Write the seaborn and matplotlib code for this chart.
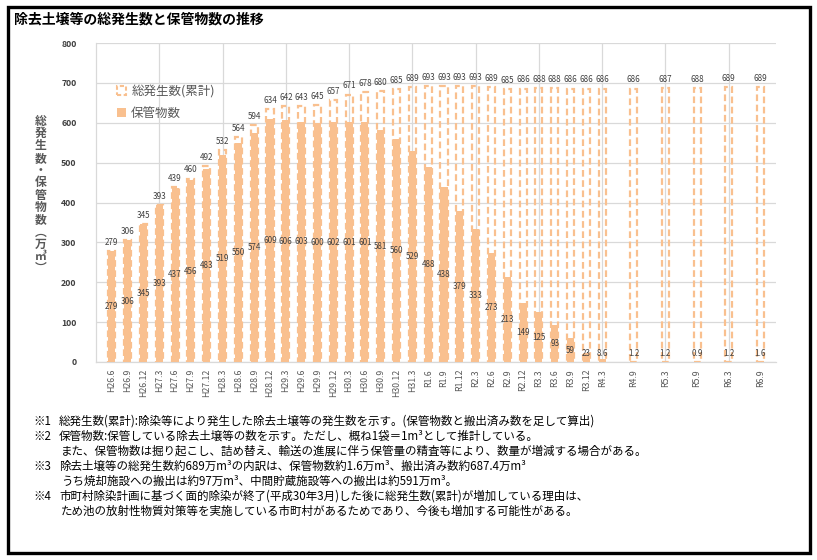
import numpy as np
import pandas as pd
import matplotlib
matplotlib.use('Agg')
import matplotlib.pyplot as plt
from matplotlib.patches import Patch, Rectangle
import seaborn as sns

labels = ['H26.6', 'H26.9', 'H26.12', 'H27.3', 'H27.6', 'H27.9', 'H27.12', 'H28.3',
          'H28.6', 'H28.9', 'H28.12', 'H29.3', 'H29.6', 'H29.9', 'H29.12', 'H30.3',
          'H30.6', 'H30.9', 'H30.12', 'H31.3', 'R1.6', 'R1.9', 'R1.12', 'R2.3',
          'R2.6', 'R2.9', 'R2.12', 'R3.3', 'R3.6', 'R3.9', 'R3.12', 'R4.3',
          'R4.9', 'R5.3', 'R5.9', 'R6.3', 'R6.9']
total = [279, 306, 345, 393, 439, 460, 492, 532, 564, 594, 634, 642, 643, 645, 657, 671,
         678, 680, 685, 689, 693, 693, 693, 693, 689, 685, 686, 688, 688, 686, 686, 686,
         686, 687, 688, 689, 689]
stored = [279, 306, 345, 393, 437, 456, 483, 519, 550, 574, 609, 606, 603, 600, 602, 601,
          601, 581, 560, 529, 488, 438, 379, 333, 273, 213, 149, 125, 93, 59, 23, 8.6,
          1.2, 1.2, 0.9, 1.2, 1.6]

notes = [
    ('※1', '総発生数(累計):除染等により発生した除去土壌等の発生数を示す。(保管物数と搬出済み数を足して算出)'),
    ('※2', '保管物数:保管している除去土壌等の数を示す。ただし、概ね1袋＝1m³として推計している。'),
    ('', 'また、保管物数は掘り起こし、詰め替え、輸送の進展に伴う保管量の精査等により、数量が増減する場合がある。'),
    ('※3', '除去土壌等の総発生数約689万m³の内訳は、保管物数約1.6万m³、搬出済み数約687.4万m³'),
    ('', 'うち焼却施設への搬出は約97万m³、中間貯蔵施設等への搬出は約591万m³。'),
    ('※4', '市町村除染計画に基づく面的除染が終了(平成30年3月)した後に総発生数(累計)が増加している理由は、'),
    ('', 'ため池の放射性物質対策等を実施している市町村があるためであり、今後も増加する可能性がある。'),
]


def quarter_index(lab):
    # H26.6 -> 2014/6, R1.6 -> 2019/6 ; index counted in quarters from H26.6
    era, rest = lab[0], lab[1:]
    y, m = rest.split('.')
    year = int(y) + (1988 if era == 'H' else 2018)
    return (year - 2014) * 4 + (int(m) - 6) // 3


df = pd.DataFrame({'label': labels, 'total': total, 'stored': stored})
df['pos'] = df['label'].map(quarter_index)

sns.set_theme(style='white')
plt.rcParams['font.family'] = ['Noto Sans CJK JP', 'DejaVu Sans']

c = '#F9C08F'
txt = '#404040'

fig = plt.figure(figsize=(8.17, 5.6), dpi=100)
ax = fig.add_axes([0.1175, 0.3536, 0.8325, 0.5694])

sns.barplot(data=df, x='pos', y='stored', native_scale=True, width=0.45,
            color=c, saturation=1, errorbar=None, linewidth=0, ax=ax, zorder=3)
sns.barplot(data=df, x='pos', y='total', native_scale=True, width=0.45,
            color=c, saturation=1, errorbar=None, fill=False, linewidth=1.6,
            linestyle=(0, (3, 1.6)), ax=ax, zorder=4)

for p, t, s in zip(df['pos'], df['total'], df['stored']):
    ax.annotate(f'{t:g}', (p, t), xytext=(0, 3), textcoords='offset points',
                ha='center', va='bottom', fontsize=5.8, color=txt, zorder=6)
    ax.text(p, max(s / 2, 22), f'{s:g}', ha='center', va='center',
            fontsize=5.8, color=txt, zorder=6)

ax.set_xlim(-1, 42)
ax.set_ylim(0, 800)
ax.set_yticks(range(0, 801, 100))
ax.set_xticks(df['pos'])
ax.set_xticklabels(df['label'], rotation=90, fontsize=6.3, color='#595959')
ax.tick_params(axis='y', labelsize=6.3, labelcolor=txt, length=0, pad=14)
ax.tick_params(axis='x', length=0, pad=5)
for lab in ax.get_yticklabels():
    lab.set_fontweight('bold')
ax.set_xlabel('')
ax.set_ylabel('')

ax.grid(axis='y', color='#D9D9D9', linewidth=0.9, zorder=0)
for p, lab in zip(df['pos'], df['label']):
    if lab.endswith('.3'):
        ax.axvline(p, color='#D9D9D9', linewidth=0.9, zorder=1)
for s in ['top', 'right']:
    ax.spines[s].set_visible(False)
for s in ['left', 'bottom']:
    ax.spines[s].set_color('#D9D9D9')
    ax.spines[s].set_linewidth(0.9)

handles = [Patch(facecolor='none', edgecolor=c, linestyle=(0, (2, 1.2)), linewidth=1.5),
           Patch(facecolor=c, edgecolor='none')]
ax.legend(handles, ['総発生数(累計)', '保管物数'], loc='upper left',
          bbox_to_anchor=(0.015, 0.905), frameon=False, fontsize=9,
          handlelength=0.7, handleheight=0.7, handletextpad=0.4,
          labelspacing=0.75, labelcolor='#595959')

ylab = '総発生数・保管物数︵万㎥︶'
fig.text(0.05, 1 - 195 / 560, '\n'.join(ylab), ha='center', va='center', fontsize=8.5,
         color='#595959', linespacing=0.93, fontweight='bold')

fig.text(0.017, 0.965, '除去土壌等の総発生数と保管物数の推移', fontsize=10,
         ha='left', va='center', color='black', fontweight='bold')

y0 = 1 - 425 / 560
for i, (mark, line) in enumerate(notes):
    yy = y0 - i * 15 / 560
    if mark:
        fig.text(33 / 817, yy, mark, fontsize=8.3, va='baseline', color='black')
    fig.text(59 / 817 if mark else 61 / 817, yy, line, fontsize=8.3,
             va='baseline', color='black')

fig.add_artist(Rectangle((7.5 / 817, 7.5 / 560), 802 / 817, 546 / 560,
                         transform=fig.transFigure, fill=False,
                         edgecolor='black', linewidth=2.4))

fig.savefig('out.png', dpi=100)
